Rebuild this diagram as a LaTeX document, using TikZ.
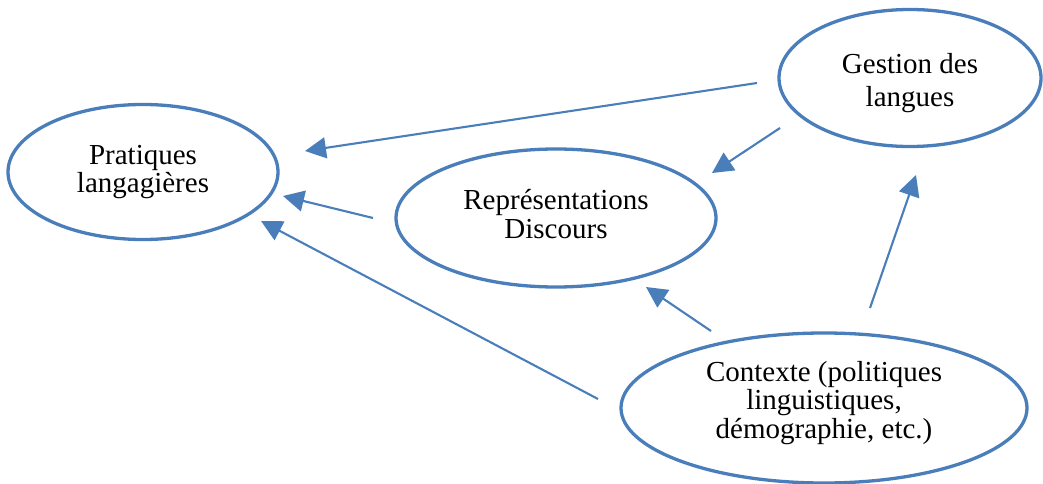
\documentclass[tikz,border=0pt]{standalone}
\usepackage{fontspec}
\setmainfont{Liberation Serif}
\usetikzlibrary{shapes.geometric,arrows.meta}
\definecolor{wordblue}{HTML}{4A7EBB}
\tikzset{
  bubble/.style={ellipse, draw=wordblue, line width=3.3pt, inner sep=0pt},
  bubbletext/.style={align=center, font=\fontsize{29}{28.5}\selectfont, text=black, inner sep=0pt},
  link/.style={draw=wordblue, line width=2.1pt,
    -{Triangle[length=21pt,width=21pt]}}
}
\begin{document}
\begin{tikzpicture}[x=1pt,y=-1pt]
\useasboundingbox (0,0) rectangle (1043,484);
\node[bubble, minimum width=270pt, minimum height=135pt,
  label={[bubbletext, yshift=0pt]center:{Pratiques\\langagières}}] (prat) at (143,172) {};
\node[bubble, minimum width=320pt, minimum height=138pt,
  label={[bubbletext, yshift=4pt]center:{Représentations\\Discours}}] (repr) at (556,218) {};
\node[bubble, minimum width=262pt, minimum height=137pt,
  label={[bubbletext, yshift=-5pt]center:{Gestion des\\[4pt]langues}}] (gest) at (910,78) {};
\node[bubble, minimum width=406pt, minimum height=150pt,
  label={[bubbletext, yshift=5pt]center:{Contexte (politiques\\linguistiques,\\démographie, etc.)}}] (cont) at (824,408) {};
% connector end points (free-floating, as in the reference)
\coordinate (g1) at (757,83);  \coordinate (p1) at (305,151);
\coordinate (g2) at (780,128); \coordinate (r1) at (712,173);
\coordinate (r2) at (373,218); \coordinate (p2) at (283,196);
\coordinate (c1) at (598,399); \coordinate (p3) at (261,221);
\coordinate (c2) at (711,331); \coordinate (r3) at (646,287);
\coordinate (c3) at (870,308); \coordinate (g3) at (916,175);
\draw[link] (g1) -- (p1);
\draw[link] (g2) -- (r1);
\draw[link] (r2) -- (p2);
\draw[link] (c1) -- (p3);
\draw[link] (c2) -- (r3);
\draw[link] (c3) -- (g3);
\end{tikzpicture}
\end{document}
